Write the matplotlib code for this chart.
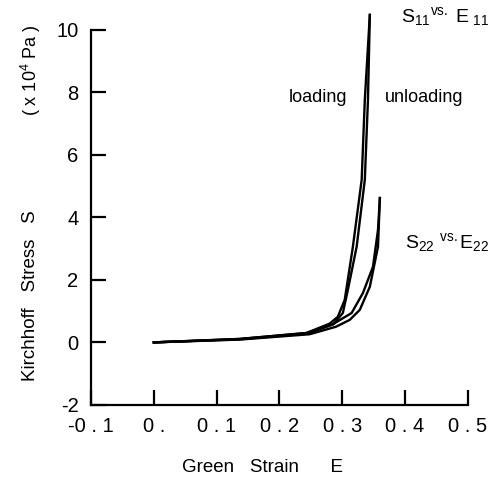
#!/usr/bin/env python3
import numpy as np
import matplotlib
matplotlib.use("Agg")
import matplotlib.pyplot as plt

plt.rcParams["font.family"] = ["Liberation Sans", "DejaVu Sans"]
plt.rcParams["mathtext.fontset"] = "custom"
plt.rcParams["mathtext.rm"] = "Liberation Sans"
plt.rcParams["mathtext.it"] = "Liberation Sans"
plt.rcParams["axes.unicode_minus"] = False

# S11 vs E11 (loading / unloading), S22 vs E22 (loading / unloading)
e11_load = [0.0, 0.137, 0.243, 0.280, 0.293, 0.304, 0.317, 0.331, 0.336, 0.344]
s11_load = [0.0, 0.11, 0.30, 0.60, 0.82, 1.36, 3.06, 5.20, 7.76, 10.48]
e11_unload = [0.0, 0.137, 0.245, 0.286, 0.301, 0.309, 0.323, 0.336, 0.341, 0.344]
s11_unload = [0.0, 0.10, 0.28, 0.58, 0.94, 1.68, 3.06, 5.20, 7.76, 10.48]
e22_load = [0.0, 0.137, 0.243, 0.285, 0.315, 0.333, 0.349, 0.357, 0.360]
s22_load = [0.0, 0.11, 0.30, 0.58, 0.94, 1.58, 2.42, 3.60, 4.62]
e22_unload = [0.0, 0.137, 0.248, 0.290, 0.312, 0.328, 0.344, 0.357, 0.360]
s22_unload = [0.0, 0.09, 0.26, 0.50, 0.72, 1.04, 1.78, 3.06, 4.62]

xticks = [-0.1, 0.0, 0.1, 0.2, 0.3, 0.4, 0.5]
xticklabels = ["-0 . 1", "0 .", "0 . 1", "0 . 2", "0 . 3", "0 . 4", "0 . 5"]
yticks = [-2, 0, 2, 4, 6, 8, 10]

fig = plt.figure(figsize=(4.95, 4.82), dpi=100)
ax = fig.add_axes([0.184, 0.160, 0.761, 0.778])

for e, s in [(e11_load, s11_load), (e11_unload, s11_unload),
             (e22_load, s22_load), (e22_unload, s22_unload)]:
    ax.plot(e, s, color="black", lw=1.7, clip_on=False, solid_joinstyle="round")

ax.set_xlim(-0.1, 0.5)
ax.set_ylim(-2, 10)
ax.set_xticks(xticks)
ax.set_xticklabels(xticklabels)
ax.set_yticks(yticks)
for sp in ["top", "right"]:
    ax.spines[sp].set_visible(False)
for sp in ["left", "bottom"]:
    ax.spines[sp].set_linewidth(1.6)
ax.tick_params(direction="in", length=11, width=1.6, labelsize=14.5)
ax.tick_params(axis="y", pad=9)
ax.tick_params(axis="x", pad=9)

fig.text(262 / 495, 1 - 467 / 482, "Green   Strain      E", ha="center", va="center", fontsize=13.5)
fig.text(31 / 495, 1 - 296 / 482, "Kirchhoff   Stress   S", ha="center", va="center",
         rotation=90, fontsize=13.5)
fig.text(31 / 495, 1 - 70 / 482, r"( x 10$^{4}$ Pa )", ha="center", va="center",
         rotation=90, fontsize=13)

fig.text(318 / 495, 1 - 97 / 482, "loading", ha="center", va="center", fontsize=13)
fig.text(424 / 495, 1 - 97 / 482, "unloading", ha="center", va="center", fontsize=13)
fig.text(445 / 495, 1 - 17 / 482, r"S$_{11}$$^{\mathrm{vs.}}$ E$_{\ 11}$",
         ha="center", va="center", fontsize=14)
fig.text(447 / 495, 1 - 243 / 482, r"S$_{22}$ $^{\mathrm{vs.}}$E$_{22}$",
         ha="center", va="center", fontsize=14)

fig.savefig("out.png", dpi=100)
